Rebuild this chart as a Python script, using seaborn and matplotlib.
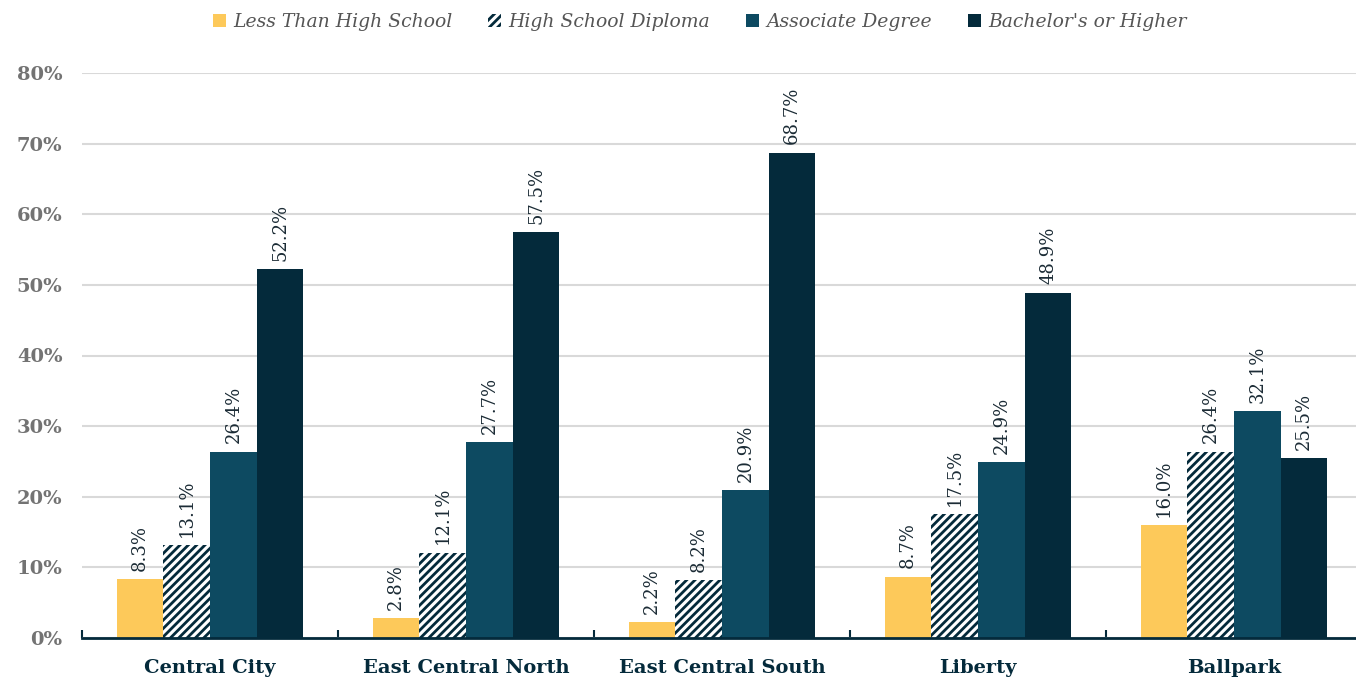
import matplotlib
matplotlib.use("Agg")
import matplotlib.pyplot as plt
import matplotlib.ticker as mticker
import pandas as pd
import seaborn as sns

areas = ["Central City", "East Central North", "East Central South", "Liberty", "Ballpark"]
levels = ["Less Than High School", "High School Diploma", "Associate Degree", "Bachelor's or Higher"]
less_than_hs = [8.3, 2.8, 2.2, 8.7, 16.0]
hs_diploma = [13.1, 12.1, 8.2, 17.5, 26.4]
associate = [26.4, 27.7, 20.9, 24.9, 32.1]
bachelors = [52.2, 57.5, 68.7, 48.9, 25.5]

colors = ["#FDC95A", "#FFFFFF", "#0D4A61", "#042A3B"]
navy = "#042A3B"

rows = []
for lvl, vals in zip(levels, [less_than_hs, hs_diploma, associate, bachelors]):
    for a, v in zip(areas, vals):
        rows.append({"area": a, "level": lvl, "pct": v})
df = pd.DataFrame(rows)

sns.set_theme(style="white")
plt.rcParams["font.family"] = ["DejaVu Serif"]
plt.rcParams["hatch.linewidth"] = 2.0
plt.rcParams["hatch.color"] = navy

fig = plt.figure(figsize=(13.56, 6.83), dpi=100)
ax = fig.add_axes([82 / 1356, 45 / 683, 1280 / 1356, 565 / 683])

sns.barplot(data=df, x="area", y="pct", hue="level", order=areas, hue_order=levels,
            palette=colors, width=0.73, ax=ax, legend=False, saturation=1)

for i, cont in enumerate(ax.containers):
    for bar in cont:
        bar.set_linewidth(0)
        if i == 1:
            bar.set_hatch("////")
            bar.set_edgecolor(navy)
            bar.set_linewidth(0)
    ax.bar_label(cont, labels=[f"{b.get_height():.1f}%" for b in cont], rotation=90,
                 padding=6, fontsize=13, color="#1B2B35")

ax.set_xlim(-0.5, 4.5)
ax.set_ylim(0, 80)
ax.yaxis.set_major_locator(mticker.MultipleLocator(10))
ax.yaxis.set_major_formatter(mticker.FuncFormatter(lambda v, p: f"{v:.0f}%"))
ax.grid(axis="y", color="#D9D9D9", linewidth=1.5)
ax.set_axisbelow(True)
for s in ["top", "right", "left"]:
    ax.spines[s].set_visible(False)
ax.spines["bottom"].set_color(navy)
ax.spines["bottom"].set_linewidth(2)

ax.set_xlabel("")
ax.set_ylabel("")
ax.tick_params(axis="y", length=0, pad=14, labelsize=14, labelcolor="#737373")
for t in ax.get_yticklabels():
    t.set_fontweight("bold")
ax.tick_params(axis="x", which="major", length=0, pad=15, labelsize=14, labelcolor=navy)
for t in ax.get_xticklabels():
    t.set_fontweight("bold")
ax.xaxis.set_minor_locator(mticker.FixedLocator([-0.5, 0.5, 1.5, 2.5, 3.5, 4.5]))
ax.tick_params(axis="x", which="minor", direction="in", length=6, width=1.5, color=navy, bottom=True)

handles = []
for i, (lvl, c) in enumerate(zip(levels, colors)):
    if i == 1:
        h = plt.Rectangle((0, 0), 1, 1, facecolor="white", edgecolor=navy, hatch="////", linewidth=0)
    else:
        h = plt.Rectangle((0, 0), 1, 1, facecolor=c, linewidth=0)
    handles.append(h)
fig.legend(handles, levels, loc="upper center", bbox_to_anchor=(0.516, 1.005), ncol=4, frameon=False,
           prop={"style": "italic", "size": 13.5}, labelcolor="#555555",
           handlelength=0.7, handleheight=0.7, handletextpad=0.4, columnspacing=1.9)

fig.savefig("out.png", dpi=100)
